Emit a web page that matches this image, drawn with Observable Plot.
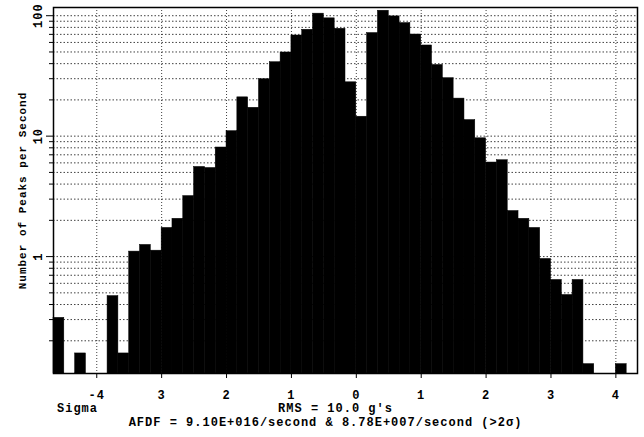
<!DOCTYPE html>
<html><head><meta charset="utf-8">
<script src="https://cdn.jsdelivr.net/npm/d3@7"></script>
<script src="https://cdn.jsdelivr.net/npm/@observablehq/plot@0.6"></script>
<style>
body{margin:0;background:#fff}
</style></head><body><div id="chart"></div>
<script>
// Histogram bins are 1/6 sigma wide; binSixths = left edge of bin in sixths of sigma
const binSixths = [-28,-27,-26,-25,-24,-23,-22,-21,-20,-19,-18,-17,-16,-15,-14,-13,-12,-11,-10,-9,-8,-7,-6,-5,-4,-3,-2,-1,
  0,1,2,3,4,5,6,7,8,9,10,11,12,13,14,15,16,17,18,19,20,21,22,23,24,25];
const peaksPerSecond = [0.31,null,0.157,null,null,0.47,0.157,1.10,1.25,1.12,1.73,2.06,3.18,5.55,5.44,8.05,11.0,21.0,17.2,29.7,41.1,49.5,68.5,76.4,104,95.1,77.9,28.0,
  14.5,71.8,110,98.7,86.9,69.8,56.6,39.0,30.3,20.5,13.6,9.6,6.04,6.31,2.39,2.06,1.73,0.956,0.64,0.48,0.64,0.128,null,null,0.128,null];

const xTickValues = [-4,-3,-2,-1,0,1,2,3,4];
const xTickLabels = ["-4","3","2","1","0","1","2","3","4"];
const yMajorTicks = [1,10,100];
const yMajorLabels = ["1","10","100"];
const yMinorTicks = [0.2,0.3,0.4,0.5,0.6,0.7,0.8,0.9,2,3,4,5,6,7,8,9,20,30,40,50,60,70,80,90];
const yTitle = "Number of Peaks per Second";
const xTitle = "Sigma";
const rmsText = "RMS = 10.0 g's";
const afdfText = "AFDF = 9.10E+016/second & 8.78E+007/second (>2σ)";
const yMin = 0.107, yMax = 117;
const xMin = -28/6, xMax = 26/6;

const bins = binSixths.map((k, i) => ({x1: k / 6, x2: (k + 1) / 6, base: yMin, v: peaksPerSecond[i]}))
  .filter(d => d.v != null);

const font = "'Liberation Mono', 'DejaVu Sans Mono', monospace";

const chart = Plot.plot({
  width: 644,
  height: 437,
  marginLeft: 53,
  marginRight: 7,
  marginTop: 7,
  marginBottom: 64,
  style: {fontFamily: font, fontSize: "12px", fontWeight: "bold", background: "#fff", color: "#000", letterSpacing: "1px"},
  x: {domain: [xMin, xMax]},
  y: {type: "log", domain: [yMin, yMax]},
  marks: [
    Plot.gridY([...yMinorTicks, ...yMajorTicks], {stroke: "#000", strokeOpacity: 0.75, strokeDasharray: "1.5,2"}),
    Plot.gridX(xTickValues, {stroke: "#000", strokeOpacity: 0.75, strokeDasharray: "1,2"}),
    Plot.rect(bins, {x1: "x1", x2: "x2", y1: "base", y2: "v", fill: "#000", stroke: "#000", strokeWidth: 0.5}),
    Plot.axisY(yMinorTicks, {tickSize: 4, tickFormat: () => "", label: null}),
    Plot.axisY(yMajorTicks, {tickSize: 7, tickFormat: () => "", label: null}),
    Plot.text(yMajorTicks, {y: d => d, text: d => yMajorLabels[yMajorTicks.indexOf(d)], frameAnchor: "left", textAnchor: "middle", dx: -15, rotate: -90, fontSize: 12, fontWeight: "bold"}),
    Plot.text([yTitle], {frameAnchor: "left", textAnchor: "middle", dx: -31, rotate: -90, fontSize: 11, fontWeight: "bold"}),
    Plot.axisX(xTickValues, {tickSize: 5, tickPadding: 12, tickFormat: d => xTickLabels[xTickValues.indexOf(d)], label: null, fontSize: 12, fontWeight: "bold"}),
    Plot.text([xTitle], {frameAnchor: "bottom-left", textAnchor: "middle", dx: 24, dy: 38, fontSize: 12, fontWeight: "bold"}),
    Plot.text([rmsText], {frameAnchor: "bottom", dx: -10, dy: 38, fontSize: 12, fontWeight: "bold"}),
    Plot.text([afdfText], {frameAnchor: "bottom", dx: -20, dy: 52, fontSize: 12, fontWeight: "bold"}),
    Plot.frame({stroke: "#000", strokeWidth: 1.5})
  ]
});
document.getElementById("chart").appendChild(chart);
</script>
</body></html>
